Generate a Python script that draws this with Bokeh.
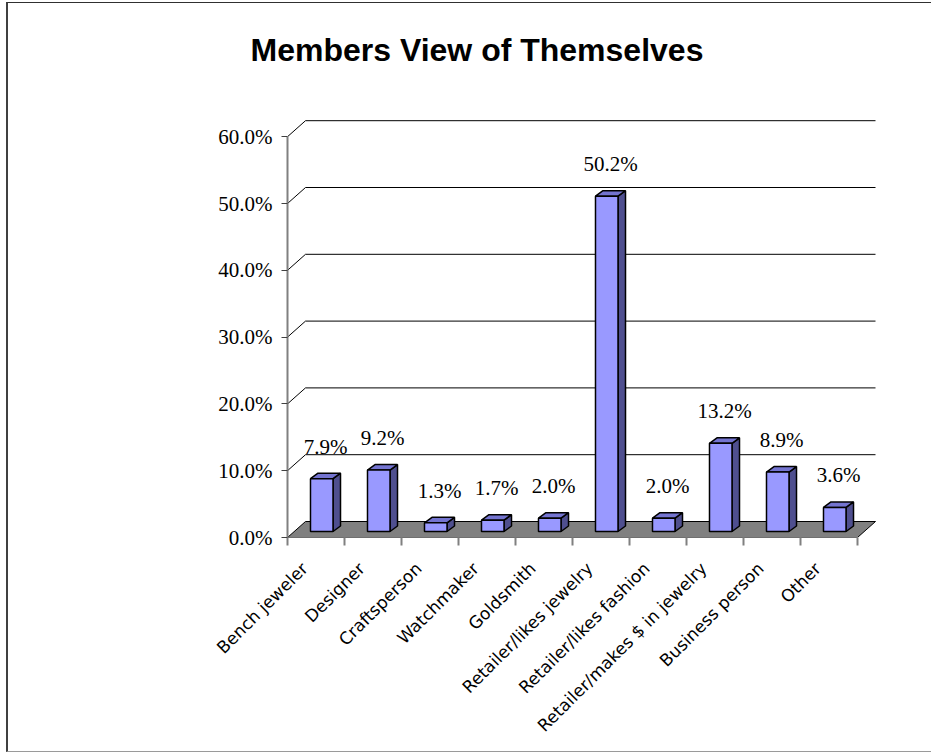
import math
from bokeh.plotting import figure
from bokeh.models import Range1d, FixedTicker, ColumnDataSource, Title
from bokeh.core.properties import value
from bokeh.embed import file_html
from bokeh.resources import INLINE

# ---------------- data ----------------
title_text = "Members View of Themselves"
categories = ["Bench jeweler", "Designer", "Craftsperson", "Watchmaker", "Goldsmith",
              "Retailer/likes jewelry", "Retailer/likes fashion",
              "Retailer/makes $ in jewelry", "Business person", "Other"]
shares = [7.9, 9.2, 1.3, 1.7, 2.0, 50.2, 2.0, 13.2, 8.9, 3.6]
y_ticks = [0, 10, 20, 30, 40, 50, 60]

# ---------------- layout ----------------
W, H = 925, 750
LEFT = 279          # figure left -> value axis
TOP = 91            # figure top -> plot frame
BOTTOM = 216        # floor front -> figure bottom
PX_X = 57.0         # pixels per category
PX_Y = 6.68         # pixels per percent point
x_end = (W - LEFT) / PX_X
y_end = (H - BOTTOM - TOP) / PX_Y

DEPTH_X, DEPTH_Y = 18 / PX_X, 16 / PX_Y      # floor / wall depth
BAR_OFF_X, BAR_OFF_Y = 6.75 / PX_X, 6 / PX_Y  # bar front set back into depth
BAR_DX, BAR_DY = 7.5 / PX_X, 5.5 / PX_Y       # bar depth
BAR_LEFT, BAR_W = 0.285, 0.395

p = figure(width=W, height=H, output_backend="svg", toolbar_location=None,
           x_range=Range1d(0, x_end), y_range=Range1d(0, y_end),
           min_border_left=LEFT, min_border_right=0, min_border_top=TOP,
           min_border_bottom=BOTTOM)
p.outline_line_color = None
p.grid.visible = False
p.background_fill_color = "white"
p.border_fill_color = "white"
p.styles = {"margin-left": "6px", "margin-top": "2px",
            "border-left": "2px solid #404040", "border-top": "1px solid #303030",
            "border-bottom": "1px solid #9a9a9a"}

p.title = Title(text=title_text, align="left", offset=250 - 287,
                vertical_align="top", standoff=50,
                text_font="Liberation Sans", text_font_style="bold",
                text_font_size="32px", text_color="black")

# back gridlines (slanted on the left wall edge)
n = len(categories)
gx, gy = [], []
for t in y_ticks[1:]:
    gx.append([0, DEPTH_X, n + DEPTH_X])
    gy.append([t, t + DEPTH_Y, t + DEPTH_Y])
p.multi_line(gx, gy, line_color="black", line_width=1)

# floor
p.patch([0, DEPTH_X, n + DEPTH_X, n], [0, DEPTH_Y, DEPTH_Y, 0],
        fill_color="#808080", line_color="black", line_width=1)

# bars (3D)
fx, fy, tx, ty, sx, sy = [], [], [], [], [], []
for i, v in enumerate(shares):
    x0 = i + BAR_LEFT + BAR_OFF_X
    x1 = x0 + BAR_W
    y0 = BAR_OFF_Y
    y1 = v + BAR_OFF_Y
    fx.append([x0, x1, x1, x0]); fy.append([y0, y0, y1, y1])
    tx.append([x0, x0 + BAR_DX, x1 + BAR_DX, x1]); ty.append([y1, y1 + BAR_DY, y1 + BAR_DY, y1])
    sx.append([x1, x1, x1 + BAR_DX, x1 + BAR_DX]); sy.append([y0, y1, y1 + BAR_DY, y0 + BAR_DY])
p.patches(sx, sy, fill_color="#4F4F8F", line_color="black", line_width=1.5)
p.patches(tx, ty, fill_color="#7474D0", line_color="black", line_width=1.5)
p.patches(fx, fy, fill_color="#9999FF", line_color="black", line_width=1.5)

# value labels
lab = ColumnDataSource(dict(x=[i + 0.67 for i in range(n)],
                            y=[v + 5.7 for v in shares],
                            t=[f"{v:.1f}%" for v in shares]))
p.text("x", "y", text="t", source=lab, text_align="center", text_baseline="middle",
       text_font=value("Liberation Serif"), text_font_size="21px", text_color="black")

# value axis
ya = p.yaxis[0]
ya.ticker = FixedTicker(ticks=y_ticks)
ya.major_label_overrides = {t: f"{t:.1f}%" for t in y_ticks}
ya.bounds = (0, 60)
ya.axis_line_color = "#808080"
ya.axis_line_width = 2
ya.major_tick_line_color = "#404040"
ya.major_tick_out = 6
ya.major_tick_in = 0
ya.minor_tick_line_color = None
ya.major_label_standoff = 9
ya.major_label_text_font = "Liberation Serif"
ya.major_label_text_font_size = "21px"
ya.major_label_text_color = "black"

# category axis
xa = p.xaxis[0]
label_ticks = [i + 0.3 for i in range(n)]
xa.ticker = FixedTicker(ticks=label_ticks, minor_ticks=list(range(n + 1)))
xa.major_label_overrides = {t: c for t, c in zip(label_ticks, categories)}
xa.bounds = (0, n)
xa.axis_line_color = None
xa.major_tick_line_color = None
xa.major_tick_out = 0
xa.major_tick_in = 0
xa.minor_tick_line_color = "#808080"
xa.minor_tick_line_width = 2
xa.minor_tick_out = 8
xa.minor_tick_in = 0
xa.major_label_orientation = math.pi / 4
xa.major_label_standoff = 20
xa.major_label_text_font = "DejaVu Sans"
xa.major_label_text_font_size = "17px"
xa.major_label_text_color = "black"

open("out.html", "w").write(file_html(p, INLINE))
